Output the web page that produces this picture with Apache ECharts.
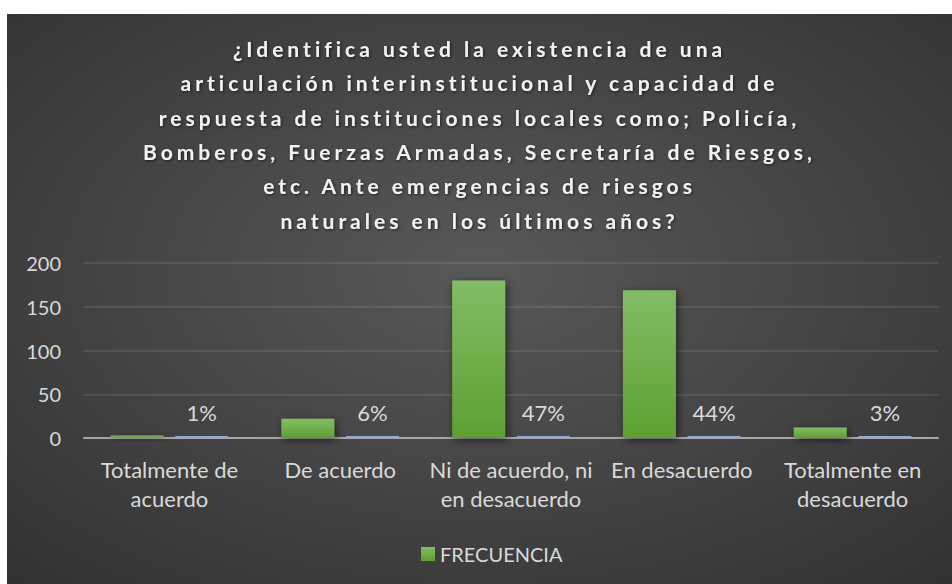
<!DOCTYPE html>
<html>
<head>
<meta charset="utf-8">
<script src="https://cdn.jsdelivr.net/npm/echarts@6/dist/echarts.min.js"></script>
<style>
    html, body { margin: 0; padding: 0; background: #ffffff; }
    #chart { position: absolute; left: 7px; top: 14px; width: 945px; height: 570px; }
    /* the title is the only bold text: spread its letters like the original */
    #chart text[style*="bold"], #chart text[font-weight="bold"] { letter-spacing: 4px; }
</style>
</head>
<body>
<div id="chart"></div>
<script>
let categories = ['Totalmente de\nacuerdo', 'De acuerdo', 'Ni de acuerdo, ni\nen desacuerdo', 'En desacuerdo', 'Totalmente en\ndesacuerdo'];
let frecuencia = [3, 22, 180, 169, 12];
let porcentaje = [0.01, 0.06, 0.47, 0.44, 0.03];
let titleLines = [
    '¿Identifica usted la existencia de una',
    'articulación interinstitucional y capacidad de',
    'respuesta de instituciones locales como; Policía,',
    'Bomberos, Fuerzas Armadas, Secretaría de Riesgos,',
    'etc. Ante emergencias de riesgos',
    'naturales en los últimos años?'
];
let yTicks = [0, 50, 100, 150, 200];

let chart = echarts.init(document.getElementById('chart'), null, { renderer: 'svg' });

let labelFont = 'Lato, "Open Sans", sans-serif';

let option = {
    backgroundColor: {
        type: 'radial', x: 0.5, y: 0.45, r: 1,
        colorStops: [
            { offset: 0, color: '#585858' },
            { offset: 1, color: '#242424' }
        ]
    },
    title: {
        text: titleLines.join('\n'),
        left: 'center',
        top: 12,
        textStyle: {
            color: '#f2f2f2',
            fontFamily: labelFont,
            fontWeight: 'bold',
            fontSize: 21,
            lineHeight: 34.4,
            textShadowColor: 'rgba(0,0,0,0.6)',
            textShadowBlur: 3,
            textShadowOffsetX: 1,
            textShadowOffsetY: 1
        }
    },
    legend: {
        data: ['FRECUENCIA'],
        left: 414,
        top: 530,
        padding: 0,
        itemWidth: 14,
        itemHeight: 14,
        itemGap: 6,
        icon: 'rect',
        textStyle: { color: '#d9d9d9', fontSize: 20, fontFamily: labelFont }
    },
    grid: { left: 77, right: 14, top: 249, bottom: 146, containLabel: false },
    xAxis: {
        type: 'category',
        data: categories,
        axisLine: { lineStyle: { color: '#a6a6a6', width: 2 } },
        axisTick: { show: false },
        axisLabel: {
            color: '#d9d9d9', fontSize: 22, fontFamily: labelFont,
            lineHeight: 29, margin: 17, interval: 0
        }
    },
    yAxis: {
        type: 'value',
        min: yTicks[0],
        max: yTicks[yTicks.length - 1],
        interval: 50,
        axisLine: { show: false },
        axisTick: { show: false },
        splitLine: { lineStyle: { color: 'rgba(255,255,255,0.12)', width: 1.5 } },
        axisLabel: { color: '#d9d9d9', fontSize: 20, fontFamily: labelFont, margin: 23 }
    },
    series: [{
        name: 'FRECUENCIA',
        type: 'bar',
        data: frecuencia,
        barWidth: 53,
        barGap: '22%',
        itemStyle: {
            color: {
                type: 'linear', x: 0, y: 0, x2: 0, y2: 1,
                colorStops: [
                    { offset: 0, color: '#83bc66' },
                    { offset: 1, color: '#5e9f31' }
                ]
            },
            shadowColor: 'rgba(0,0,0,0.55)',
            shadowBlur: 8,
            shadowOffsetX: 2,
            shadowOffsetY: 2
        }
    }, {
        name: 'PORCENTAJE',
        type: 'bar',
        data: porcentaje,
        barWidth: 53,
        barMinHeight: 2,
        itemStyle: { color: '#8faadc' },
        label: {
            show: true,
            position: 'top',
            distance: 13,
            color: '#d9d9d9',
            fontSize: 22,
            fontFamily: labelFont,
            formatter: function (p) { return Math.round(p.value * 100) + '%'; }
        }
    }]
};
chart.setOption(option);
</script>
</body>
</html>
